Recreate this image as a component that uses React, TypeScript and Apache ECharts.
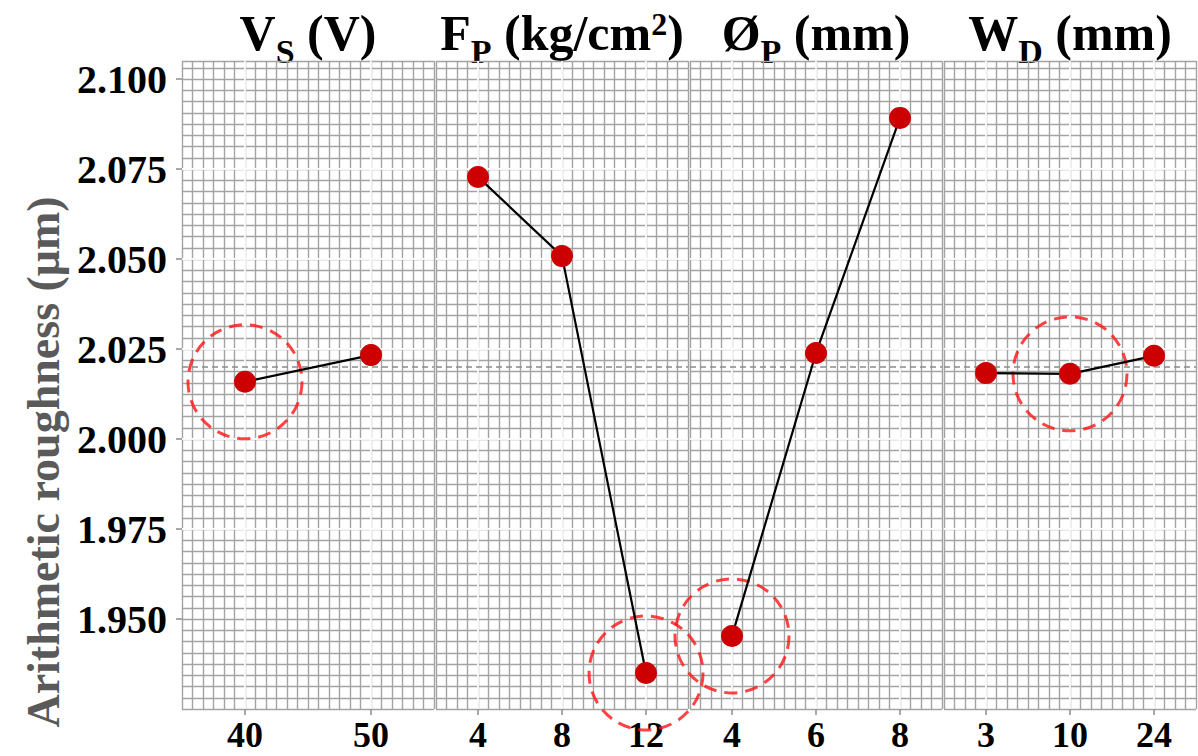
import React, { useEffect, useRef } from 'react';
import * as echarts from 'echarts';

// ---- data ----
const vsLevels = ['40', '50'];
const vsValues = [2.0159, 2.0233];
const fpLevels = ['4', '8', '12'];
const fpValues = [2.0728, 2.0508, 1.935];
const dpLevels = ['4', '6', '8'];
const dpValues = [1.9453, 2.0239, 2.0892];
const wdLevels = ['3', '10', '24'];
const wdValues = [2.0183, 2.0181, 2.0231];
const optimalLevels = ['40', '12', '4', '10'];
const yTickValues = [1.95, 1.975, 2.0, 2.025, 2.05, 2.075, 2.1];
const factorTitles = [
  '{m|V}{s|S}{m| (V)}',
  '{m|F}{s|P}{m| (kg/cm}{u|2}{m|)}',
  '{m|Ø}{s|P}{m| (mm)}',
  '{m|W}{s|D}{m| (mm)}',
];
const yAxisTitle = 'Arithmetic roughness (μm)';

const SERIF = '"Liberation Serif", "Times New Roman", serif';
const GRAY = '#a3a3a3';
const panelLeft = [182, 436, 690, 944];
const PW = 252;
const TOP = 61;
const PH = 648;

export default function App() {
  const ref = useRef<HTMLDivElement>(null);

  useEffect(() => {
    if (!ref.current) return;
    const chart = echarts.init(ref.current, undefined, { renderer: 'svg' });

    const panels = [
      { levels: vsLevels, values: vsValues },
      { levels: fpLevels, values: fpValues },
      { levels: dpLevels, values: dpValues },
      { levels: wdLevels, values: wdValues },
    ];
    const all = panels.flatMap((p) => p.values);
    const mean = all.reduce((a, b) => a + b, 0) / all.length;

    const grid: any[] = [];
    const xAxis: any[] = [];
    const yAxis: any[] = [];
    const series: any[] = [];
    const graphic: any[] = [];

    panels.forEach((p, i) => {
      grid.push({ left: panelLeft[i], top: TOP, width: PW, height: PH, containLabel: false });
      xAxis.push({
        type: 'value', gridIndex: i, position: 'top', min: 0, max: 24, interval: 1,
        axisLine: { show: false }, axisTick: { show: false }, axisLabel: { show: false },
        splitLine: { show: true, lineStyle: { color: GRAY, width: 1.4 } }, z: 0,
      });
      xAxis.push({
        type: 'category', gridIndex: i, position: 'bottom', data: p.levels, boundaryGap: true,
        axisLine: { show: false },
        axisTick: { show: true, alignWithLabel: true, length: 6, lineStyle: { color: '#8c8c8c', width: 1.5 } },
        axisLabel: { fontFamily: SERIF, fontWeight: 'bold', fontSize: 36, lineHeight: 36, color: '#000', margin: 8 },
        splitLine: { show: false }, z: 1,
      });
      yAxis.push({
        type: 'value', gridIndex: i, position: 'right', min: 0, max: 57.6, interval: 1,
        axisLine: { show: false }, axisTick: { show: false }, axisLabel: { show: false },
        splitLine: { show: true, lineStyle: { color: GRAY, width: 1.4 } }, z: 0,
      });
      yAxis.push({
        type: 'value', gridIndex: i, position: 'left', min: 1.925, max: 2.105, interval: 0.025,
        axisLine: { show: false },
        axisTick: { show: i === 0, length: 6, customValues: yTickValues, lineStyle: { color: '#8c8c8c', width: 1.5 } },
        axisLabel: {
          show: i === 0, customValues: yTickValues, margin: 15,
          formatter: (v: number) => v.toFixed(3),
          fontFamily: SERIF, fontWeight: 'bold', fontSize: 40, color: '#000',
        },
        splitLine: { show: true, showMinLine: false, showMaxLine: false, lineStyle: { color: '#ffffff', width: 2, opacity: 0.9 } },
        z: 1,
      });

      const xi = 2 * i + 1;
      const yi = 2 * i + 1;
      series.push({
        type: 'line', xAxisIndex: xi, yAxisIndex: yi, data: [], z: 1, silent: true,
        markLine: {
          silent: true, symbol: 'none', label: { show: false }, z: 1, animation: false,
          data: [
            ...p.levels.map((l) => ({ xAxis: l, lineStyle: { color: '#ffffff', width: 2, type: 'solid', opacity: 0.85 } })),
            { yAxis: mean, lineStyle: { color: '#8a8a8a', width: 1.6, type: [6, 4] } },
          ],
        },
      });
      const opt = optimalLevels[i];
      series.push({
        type: 'scatter', xAxisIndex: xi, yAxisIndex: yi, silent: true, clip: false, z: 8,
        data: [[opt, p.values[p.levels.indexOf(opt)]]],
        symbol: 'circle', symbolSize: 114,
        itemStyle: { color: 'rgba(0,0,0,0)', borderColor: '#ff1414', borderWidth: 3, borderType: [13, 8] },
      });
      series.push({
        type: 'line', xAxisIndex: xi, yAxisIndex: yi, data: p.values, silent: true, z: 10,
        symbol: 'circle', symbolSize: 22,
        itemStyle: { color: '#cc0000' },
        lineStyle: { color: '#000000', width: 2.2 },
      });

      graphic.push({
        type: 'text', x: panelLeft[i] + PW / 2, y: 8, silent: true,
        style: {
          text: factorTitles[i], align: 'center', verticalAlign: 'top',
          rich: {
            m: { fontFamily: SERIF, fontWeight: 'bold', fontSize: 50, lineHeight: 50, verticalAlign: 'top', fill: '#000' },
            s: { fontFamily: SERIF, fontWeight: 'bold', fontSize: 34, lineHeight: 34, verticalAlign: 'top', padding: [26, 0, 0, 0], fill: '#000' },
            u: { fontFamily: SERIF, fontWeight: 'bold', fontSize: 32, lineHeight: 32, verticalAlign: 'top', fill: '#000' },
          },
        },
      });
    });

    graphic.push({
      type: 'text', x: 43, y: 462, rotation: Math.PI / 2, silent: true,
      style: {
        text: yAxisTitle, align: 'center', verticalAlign: 'middle',
        fontFamily: SERIF, fontWeight: 'bold', fontSize: 46, fill: '#5a5a5a',
      },
    });

    chart.setOption({
      animation: false,
      backgroundColor: '#ffffff',
      grid, xAxis, yAxis, series, graphic,
    });

    return () => chart.dispose();
  }, []);

  return (
    <div
      ref={ref}
      style={{ position: 'fixed', left: 0, top: 0, width: 1198, height: 756 }}
    />
  );
}
